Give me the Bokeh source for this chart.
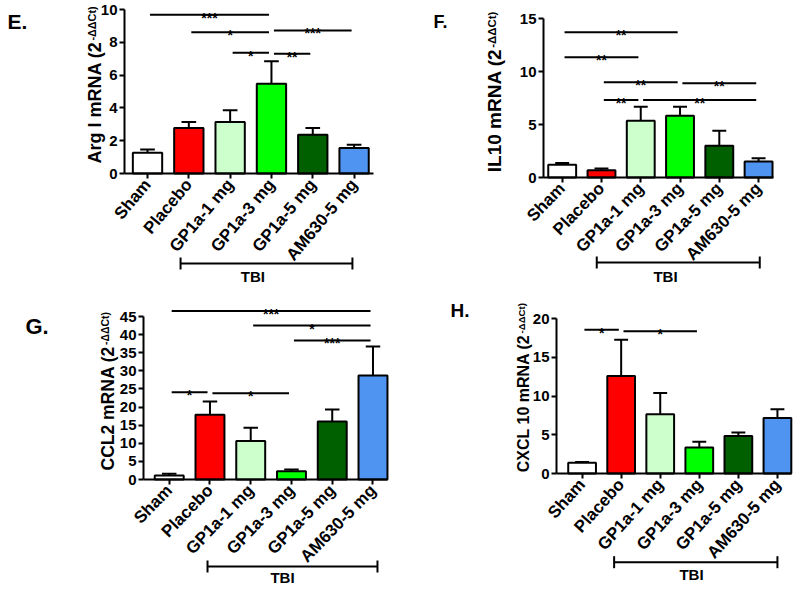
import math
from bokeh.plotting import figure
from bokeh.models import FixedTicker, Label, Arrow, TeeHead
from bokeh.layouts import column, row
from bokeh.embed import file_html
from bokeh.resources import INLINE
from bokeh.core.properties import value

# ---------------- data ----------------
groups = ["Sham", "Placebo", "GP1a-1 mg", "GP1a-3 mg", "GP1a-5 mg", "AM630-5 mg"]
bar_colors = ["#FFFFFF", "#FF0000", "#CCFFCC", "#00FF00", "#006000", "#4F94F0"]

# E. Arg I
argi_mean = [1.26, 2.78, 3.14, 5.48, 2.37, 1.56]
argi_sem = [0.20, 0.36, 0.71, 1.36, 0.41, 0.20]
argi_yticks = [0, 2, 4, 6, 8, 10]
argi_sig_from = [0, 1, 2, 3, 3]
argi_sig_to = [3, 3, 3, 4, 5]
argi_sig_y = [9.68, 8.62, 7.36, 7.30, 8.72]
argi_sig_txt = ["***", "*", "*", "**", "***"]

# F. IL10
il10_mean = [1.20, 0.69, 5.37, 5.84, 3.00, 1.52]
il10_sem = [0.16, 0.16, 1.32, 0.85, 1.42, 0.31]
il10_yticks = [0, 5, 10, 15]
il10_sig_from = [0, 0, 1, 3, 1, 2]
il10_sig_to = [3, 2, 3, 5, 2, 5]
il10_sig_y = [13.74, 11.37, 9.0, 8.9, 7.33, 7.33]
il10_sig_txt = ["**", "**", "**", "**", "**", "**"]

# G. CCL2
ccl2_mean = [1.1, 17.9, 10.6, 2.3, 16.0, 28.7]
ccl2_sem = [0.46, 3.6, 3.7, 0.46, 3.3, 8.0]
ccl2_yticks = [0, 5, 10, 15, 20, 25, 30, 35, 40, 45]
ccl2_sig_from = [0, 2, 3, 0, 1]
ccl2_sig_to = [5, 5, 5, 1, 3]
ccl2_sig_y = [46.5, 42.5, 38.4, 24.1, 23.8]
ccl2_sig_txt = ["***", "*", "***", "*", "*"]

# H. CXCL 10
cxcl10_mean = [1.38, 12.6, 7.66, 3.35, 4.86, 7.18]
cxcl10_sem = [0.12, 4.7, 2.74, 0.75, 0.44, 1.12]
cxcl10_yticks = [0, 5, 10, 15, 20]
cxcl10_sig_from = [0, 1]
cxcl10_sig_to = [1, 3]
cxcl10_sig_y = [18.6, 18.4]
cxcl10_sig_txt = ["*", "*"]

# ---------------- layout helpers ----------------
FONT = "Liberation Sans"
AW = {' ': 278, '(': 333, ')': 333, '-': 333, '0': 556, '1': 556, '2': 556,
      '3': 556, '5': 556, '6': 556, 'A': 722, 'C': 722, 'I': 278, 'L': 611,
      'N': 722, 'R': 722, 'X': 667, 'a': 556, 'g': 611, 'm': 889, 'r': 389,
      't': 333, 'Δ': 670}


def text_w(s, size):
    return sum(AW.get(c, 600) for c in s) / 1000.0 * size


def make_panel(letter, label_main, mean, sem, yticks, s_from, s_to, s_y, s_txt, g):
    ox, oy, w, h = g["ox"], g["oy"], g["w"], g["h"]
    l, r, b, top_px = g["l"], g["r"], g["b"], g["top_px"]
    x0, x1 = g["x0"], g["x1"]
    ymax = yticks[-1]
    ppx = (r - l) / (x1 - x0)
    ppu = (b - top_px) / ymax

    def px2x(px):
        return x0 + (px - l) / ppx

    def py2y(py):
        return (b - py) / ppu

    p = figure(width=w, height=h, x_range=(px2x(ox), px2x(ox + w)),
               y_range=(py2y(oy + h), py2y(oy)),
               output_backend="svg", toolbar_location=None, min_border=0)
    p.min_border_left = 0
    p.min_border_right = 0
    p.min_border_top = 0
    p.min_border_bottom = 0
    p.outline_line_color = None
    p.xgrid.visible = False
    p.ygrid.visible = False
    p.background_fill_color = "white"
    p.border_fill_color = "white"

    idx = list(range(len(groups)))
    upper = [m + s for m, s in zip(mean, sem)]
    bw = 0.71
    cap = bw / 4

    p.vbar(x=idx, width=bw, bottom=0, top=mean, fill_color=bar_colors,
           line_color="black", line_width=2)
    p.segment(x0=idx, y0=mean, x1=idx, y1=upper, line_color="black", line_width=2)
    p.segment(x0=[i - cap for i in idx], y0=upper, x1=[i + cap for i in idx], y1=upper,
              line_color="black", line_width=2)

    # significance lines and stars
    p.segment(x0=[a + 0.06 for a in s_from], x1=[c - 0.06 for c in s_to], y0=s_y, y1=s_y,
              line_color="black", line_width=2)
    p.text(x=[(a + c) / 2 for a, c in zip(s_from, s_to)], y=s_y, text=s_txt,
           text_align="center", text_baseline="alphabetic", y_offset=3,
           text_font=value(FONT), text_font_style="bold", text_font_size="14px",
           text_color="black")

    # axes at fixed locations inside the frame
    xa = p.xaxis[0]
    xa.fixed_location = 0
    xa.bounds = (x0, x1)
    xa.ticker = FixedTicker(ticks=idx)
    xa.major_label_overrides = {i: gname for i, gname in enumerate(groups)}
    xa.major_label_orientation = math.radians(g["angle"])
    ya = p.yaxis[0]
    ya.fixed_location = x0
    ya.ticker = FixedTicker(ticks=yticks)
    ya.bounds = (0, ymax)
    for ax in (xa, ya):
        ax.axis_line_width = 2
        ax.axis_line_color = "black"
        ax.major_tick_line_width = 2
        ax.major_tick_line_color = "black"
        ax.major_tick_in = 0
        ax.major_tick_out = 5
        ax.minor_tick_line_color = None
        ax.major_label_text_font = FONT
        ax.major_label_text_font_style = "bold"
        ax.major_label_text_color = "black"
    xa.major_label_text_font_size = "17px"
    ya.major_label_text_font_size = "15px"
    xa.major_label_standoff = 3
    ya.major_label_standoff = 2

    # y axis title with superscript
    f = g["lab_f"]
    sf = round(f * 0.6, 1)
    main_w = text_w(label_main, f)
    p.add_layout(Label(x=px2x(g["lab_col"]), y=py2y(g["lab_bot"]), text=label_main,
                       angle=math.pi / 2, text_align="left", text_baseline="middle",
                       text_font=FONT, text_font_style="bold",
                       text_font_size=f"{f}px", text_color="black"))
    p.add_layout(Label(x=px2x(g["lab_col"] - 0.15 * f), y=py2y(g["lab_bot"] - main_w - 1),
                       text="-ΔΔCt)", angle=math.pi / 2, text_align="left",
                       text_baseline="middle", text_font=FONT, text_font_style="bold",
                       text_font_size=f"{sf}px", text_color="black"))

    # panel letter
    lf = g["letter_f"]
    p.add_layout(Label(x=px2x(g["letter_x"]), y=py2y(g["letter_y"] - 0.19 * lf),
                       text=letter, text_align="left", text_baseline="top",
                       text_font=FONT, text_font_style="bold",
                       text_font_size=f"{lf}px", text_color="black"))

    # TBI bracket
    yb = py2y(b + g["tbi_drop"])
    p.add_layout(Arrow(x_start=g["br"][0], y_start=yb, x_end=g["br"][1], y_end=yb,
                       start=TeeHead(size=12, line_width=2, line_color="black"),
                       end=TeeHead(size=12, line_width=2, line_color="black"),
                       line_width=2, line_color="black"))
    p.add_layout(Label(x=g["tbi_x"], y=py2y(b + g["tbi_text_drop"]), text="TBI",
                       text_align="center", text_baseline="middle", text_font=FONT,
                       text_font_style="bold", text_font_size="15px", text_color="black"))
    return p


geomE = dict(ox=0, oy=0, w=400, h=296, l=124, r=373, b=173, top_px=9, x0=-0.557, x1=5.47,
             lab_f=18, lab_col=94, lab_bot=163, letter_x=7, letter_y=13.3, letter_f=21,
             angle=50, tbi_drop=90, tbi_text_drop=103, tbi_x=2.55, br=(0.80, 4.96))
geomF = dict(ox=400, oy=0, w=400, h=296, l=543, r=773, b=177, top_px=18.3, x0=-0.476, x1=5.38,
             lab_f=19, lab_col=494, lab_bot=171.7, letter_x=433, letter_y=15, letter_f=18,
             angle=46, tbi_drop=85, tbi_text_drop=99, tbi_x=2.63, br=(0.88, 5.03))
geomG = dict(ox=0, oy=296, w=400, h=290, l=143, r=387, b=479, top_px=316, x0=-0.631, x1=5.356,
             lab_f=17.5, lab_col=107.5, lab_bot=470, letter_x=25, letter_y=318, letter_f=22,
             angle=46, tbi_drop=87, tbi_text_drop=98, tbi_x=2.78, br=(0.94, 5.11))
geomH = dict(ox=400, oy=296, w=400, h=290, l=556, r=791, b=473, top_px=318.3, x0=-0.655, x1=5.36,
             lab_f=16, lab_col=523, lab_bot=471.7, letter_x=450, letter_y=303, letter_f=19,
             angle=48, tbi_drop=88.7, tbi_text_drop=101, tbi_x=2.8, br=(0.82, 5.0))

pE = make_panel("E.", "Arg I mRNA (2", argi_mean, argi_sem, argi_yticks,
                argi_sig_from, argi_sig_to, argi_sig_y, argi_sig_txt, geomE)
pF = make_panel("F.", "IL10 mRNA (2", il10_mean, il10_sem, il10_yticks,
                il10_sig_from, il10_sig_to, il10_sig_y, il10_sig_txt, geomF)
pG = make_panel("G.", "CCL2 mRNA (2", ccl2_mean, ccl2_sem, ccl2_yticks,
                ccl2_sig_from, ccl2_sig_to, ccl2_sig_y, ccl2_sig_txt, geomG)
pH = make_panel("H.", "CXCL 10 mRNA (2", cxcl10_mean, cxcl10_sem, cxcl10_yticks,
                cxcl10_sig_from, cxcl10_sig_to, cxcl10_sig_y, cxcl10_sig_txt, geomH)

layout = column(row(pE, pF), row(pG, pH))
open("out.html", "w").write(file_html(layout, INLINE))
